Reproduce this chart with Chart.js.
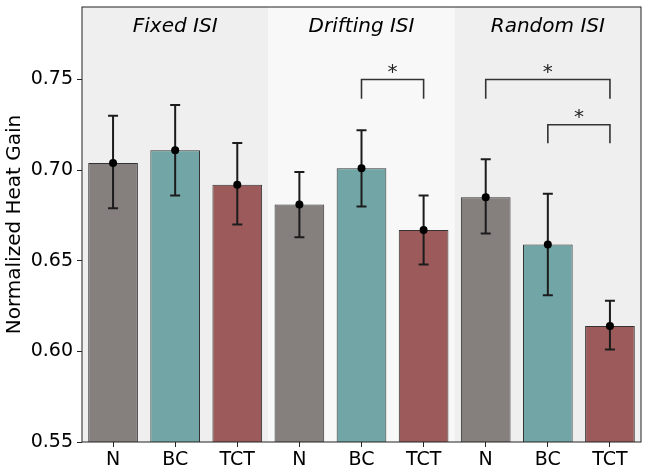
<!DOCTYPE html>
<html>
<head>
<meta charset="utf-8">
<script src="https://cdn.jsdelivr.net/npm/chart.js@4/dist/chart.umd.min.js"></script>
<style>
  html, body { margin: 0; padding: 0; background: #fff; }
</style>
</head>
<body>
<canvas id="myChart" width="646" height="475"></canvas>
<script>
// categories along the x axis
var tickLabels = ['N', 'BC', 'TCT', 'N', 'BC', 'TCT', 'N', 'BC', 'TCT'];
var groupNames = ['Fixed ISI', 'Drifting ISI', 'Random ISI'];
var groupShade = ['#efefef', '#f8f8f8', '#efefef'];

// bar heights and error bar limits
var means = [0.704, 0.711, 0.692, 0.681, 0.701, 0.667, 0.685, 0.659, 0.614];
var errLow = [0.679, 0.686, 0.670, 0.663, 0.680, 0.648, 0.665, 0.631, 0.601];
var errHigh = [0.730, 0.736, 0.715, 0.699, 0.722, 0.686, 0.706, 0.687, 0.628];

var barColors = ['#857f7e', '#72a6a6', '#9c5a5a', '#857f7e', '#72a6a6', '#9c5a5a', '#857f7e', '#72a6a6', '#9c5a5a'];

// significance brackets: [from bar, to bar, line level, leg bottom]
var brackets = [
    [4, 5, 0.750, 0.7394],
    [6, 8, 0.750, 0.7394],
    [7, 8, 0.725, 0.7148]
];

var FONT = '"DejaVu Sans", sans-serif';

var decor = {
    id: 'decor',
    beforeDatasetsDraw: function(chart) {
        var ctx = chart.ctx, a = chart.chartArea, x = chart.scales.x;
        var step = (a.right - a.left) / tickLabels.length;
        ctx.save();
        for (var g = 0; g < groupNames.length; g++) {
            var l = x.getPixelForValue(g * 3) - step / 2;
            ctx.fillStyle = groupShade[g];
            ctx.fillRect(l, a.top, step * 3, a.bottom - a.top);
        }
        ctx.restore();
    },
    afterDatasetsDraw: function(chart) {
        var ctx = chart.ctx, a = chart.chartArea, x = chart.scales.x, y = chart.scales.y;
        ctx.save();
        // error bars
        for (var i = 0; i < means.length; i++) {
            var px = x.getPixelForValue(i);
            var lo = y.getPixelForValue(errLow[i]), hi = y.getPixelForValue(errHigh[i]);
            ctx.strokeStyle = '#1c1c1c';
            ctx.lineWidth = 2;
            ctx.beginPath();
            ctx.moveTo(px, lo); ctx.lineTo(px, hi);
            ctx.moveTo(px - 5, lo); ctx.lineTo(px + 5, lo);
            ctx.moveTo(px - 5, hi); ctx.lineTo(px + 5, hi);
            ctx.stroke();
            ctx.fillStyle = '#000';
            ctx.beginPath();
            ctx.arc(px, y.getPixelForValue(means[i]), 4, 0, Math.PI * 2);
            ctx.fill();
        }
        // brackets
        ctx.strokeStyle = '#333';
        ctx.lineWidth = 1.6;
        ctx.fillStyle = '#222';
        ctx.font = '20px ' + FONT;
        ctx.textAlign = 'center';
        ctx.textBaseline = 'middle';
        brackets.forEach(function(b) {
            var x1 = x.getPixelForValue(b[0]), x2 = x.getPixelForValue(b[1]);
            var yl = y.getPixelForValue(b[2]), yb = y.getPixelForValue(b[3]);
            ctx.beginPath();
            ctx.moveTo(x1, yb); ctx.lineTo(x1, yl); ctx.lineTo(x2, yl); ctx.lineTo(x2, yb);
            ctx.stroke();
            ctx.fillText('*', (x1 + x2) / 2, yl - 7);
        });
        // group titles
        ctx.fillStyle = '#000';
        ctx.font = 'italic 20px ' + FONT;
        for (var g = 0; g < groupNames.length; g++) {
            ctx.fillText(groupNames[g], x.getPixelForValue(g * 3 + 1), a.top + 20);
        }
        // frame
        ctx.strokeStyle = '#222';
        ctx.lineWidth = 1;
        ctx.strokeRect(a.left, a.top, a.right - a.left, a.bottom - a.top);
        ctx.restore();
    }
};

var ctx = document.getElementById('myChart').getContext('2d');
var chart = new Chart(ctx, {
    type: 'bar',
    data: {
        labels: tickLabels,
        datasets: [{
            data: means,
            backgroundColor: barColors,
            borderColor: '#333',
            borderWidth: 1,
            borderSkipped: false,
            categoryPercentage: 1.0,
            barPercentage: 0.8
        }]
    },
    options: {
        responsive: false,
        animation: false,
        devicePixelRatio: 1,
        layout: { padding: { left: 0, right: 5, top: 7, bottom: 0 } },
        plugins: { legend: { display: false }, tooltip: { enabled: false } },
        scales: {
            x: {
                grid: { display: true, offset: false, drawOnChartArea: false, tickLength: 5, tickColor: '#222' },
                border: { display: false },
                ticks: { color: '#000', font: { family: FONT, size: 19 }, padding: 2, maxRotation: 0, autoSkip: false },
                afterFit: function(s) { s.height = 33; s.paddingLeft = 0; s.paddingRight = 0; }
            },
            y: {
                min: 0.55,
                max: 0.79,
                grid: { display: true, drawOnChartArea: false, tickLength: 5, tickColor: '#222' },
                border: { display: false },
                ticks: {
                    stepSize: 0.05,
                    includeBounds: false,
                    color: '#000',
                    font: { family: FONT, size: 19 },
                    padding: 4,
                    callback: function(v) { return v.toFixed(2); }
                },
                title: { display: true, text: 'Normalized Heat Gain', color: '#000', font: { family: FONT, size: 20 }, padding: { top: 3, bottom: 0 } },
                afterFit: function(s) { s.width = 82; s.paddingTop = 0; s.paddingBottom = 0; }
            }
        }
    },
    plugins: [decor]
});
</script>
</body>
</html>
